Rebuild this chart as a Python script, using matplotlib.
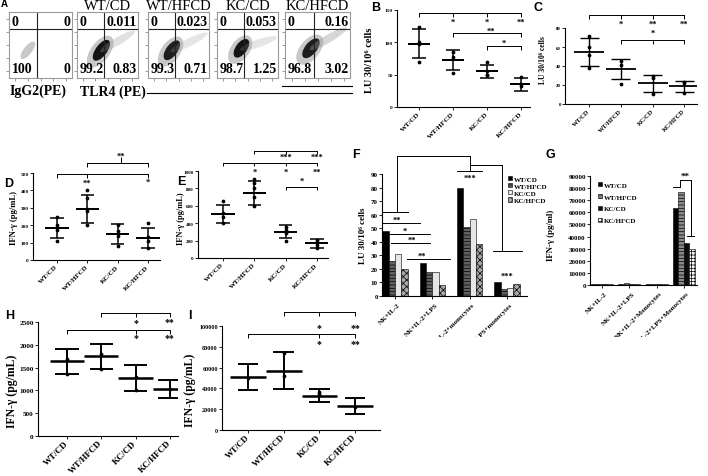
import matplotlib
matplotlib.use('Agg')
import matplotlib.pyplot as plt
import matplotlib.transforms as mtransforms
from matplotlib.patches import Ellipse, Patch
from matplotlib.lines import Line2D
import numpy as np

plt.rcParams['font.family'] = ['Liberation Serif', 'DejaVu Serif']
plt.rcParams['font.weight'] = 'bold'
plt.rcParams['hatch.linewidth'] = 0.5
plt.rcParams['axes.linewidth'] = 0.8

# ---- data ----
groups = ['WT/CD', 'WT/HFCD', 'KC/CD', 'KC/HFCD']

# A: flow cytometry quadrants
a_titles = ['', 'WT/CD', 'WT/HFCD', 'KC/CD', 'KC/HFCD']
a_ul = ['0', '0', '0', '0', '0']
a_ur = ['0', '0.011', '0.023', '0.053', '0.16']
a_ll = ['100', '99.2', '99.3', '98.7', '96.8']
a_lr = ['0', '0.83', '0.71', '1.25', '3.02']
a_cx = [0.30, 0.38, 0.37, 0.38, 0.38]
a_cy = [0.42, 0.40, 0.40, 0.43, 0.43]
a_len = [0.33, 0.48, 0.45, 0.42, 0.45]
a_core = [0.0, 0.9, 0.85, 0.9, 0.85]
a_tx = [0.30, 0.95, 0.98, 0.98, 0.95]
a_ty = [0.42, 0.71, 0.68, 0.62, 0.76]
a_tail = [0.0, 0.3, 0.25, 0.25, 0.4]

# B: LU 30/10^6 cells
b_mean = [98, 72, 55, 35]
b_sd = [22, 15.5, 9.5, 9.5]
b_pts = [[123, 101, 97, 70], [85, 77, 52], [69, 55, 50, 50], [47, 36, 33]]
b_brackets = [([0, 1, 2, 3], 145, 6), ([1, 3], 114, 6), ([2, 3], 94, 6)]
b_stars = [(1, 131, '*'), (2, 131, '*'), (3, 131, '**'), (2.1, 118, '**'), (2.5, 99, '*')]

# C
c_mean = [55, 36.5, 22, 18.5]
c_sd = [14.5, 10.5, 9, 5.5]
c_pts = [[72, 60, 52, 38], [45, 41, 21], [30, 27, 11], [23, 22, 12]]
c_brackets = [([0, 1, 2, 3], 94, 4), ([1, 2, 3], 67, 4)]
c_stars = [(1, 84, '*'), (2, 84, '**'), (3, 84, '**'), (2, 75, '*')]

# D: IFN-g
d_mean = [185, 293, 150, 127]
d_sd = [58, 82, 58, 58]
d_pts = [[250, 200, 175, 110], [400, 355, 295, 280, 200], [200, 165, 140, 80], [210, 130, 110, 70]]
d_brackets = [([0, 1, 3], 494, 20), ([1, 3], 557, 20)]
d_stars = [(1, 442, '**'), (3, 448, '*'), (2.1, 598, '**')]

# E: IFN-g
e_mean = [508, 745, 303, 168]
e_sd = [105, 138, 73, 52]
e_pts = [[650, 520, 470, 400], [910, 860, 800, 700, 600], [360, 320, 290, 200], [210, 180, 150, 120]]
e_brackets = [([1, 2, 3], 1230, 40), ([0, 1, 2, 3], 1092, 40), ([2, 3], 816, 40)]
e_stars = [(2, 1161, '***'), (3, 1161, '***'), (1, 989, '*'), (2, 989, '*'), (3, 989, '**'), (2.5, 885, '*')]

# F: bars LU
f_labels = ['NK+IL-2', 'NK+IL-2+LPS', 'NK+IL-2+monocytes', 'NK+IL-2+LPS+monocytes']
f_wtcd = [48, 24, 80, 10.5]
f_wthfcd = [26, 18, 51, 5]
f_kccd = [31, 18, 56.5, 6]
f_kchfcd = [20, 8, 38, 9]
f_lines = [([-0.32, 0.67], [53.8, 53.8]), ([-0.32, 0.94], [45.7, 45.7]),
           ([-0.11, 0.94], [39, 39]), ([0.32, 1.47], [27.3, 27.3]),
           ([-0.32, 0.35], [62, 62]), ([0.05, 0.05], [62, 103]),
           ([0.05, 2.01], [103, 103]), ([2.01, 2.01], [103, 92]),
           ([1.66, 2.33], [92, 92]), ([2.01, 2.87], [97, 97]),
           ([2.87, 2.87], [97, 33]), ([2.63, 3.40], [33, 33])]
f_stars = [(0.05, 56, '**'), (0.27, 48, '*'), (0.46, 41.5, '**'), (0.72, 30, '**'),
           (2.0, 87, '***'), (3.0, 15, '***')]

# G: bars IFN-g
g_labels = ['NK+IL-2', 'NK+IL-2+LPS', 'NK+IL-2+Monocytes', 'NK+IL-2+LPS+Monocytes']
g_wtcd = [800, 1200, 1000, 63500]
g_wthfcd = [600, 1500, 1200, 76500]
g_kccd = [700, 1000, 1100, 34500]
g_kchfcd = [500, 800, 900, 30000]
g_lines = [([2.6, 2.86], [80900, 80900]), ([2.86, 2.86], [80900, 86700]),
           ([2.86, 3.26], [86700, 86700]), ([3.26, 3.26], [86700, 40500]),
           ([3.11, 3.37], [40500, 40500])]
g_stars = [(3.05, 90000, '**')]

# H: IFN-g
h_mean = [1635, 1745, 1280, 1030]
h_sd = [280, 270, 285, 195]
h_pts = [[1680, 1350], [1800, 1480], [1300, 1000], [1020]]
h_brackets = [([1, 2, 3], 2697, 90), ([0, 2, 3], 2325, 90)]
h_stars = [(2, 2478, '*'), (3, 2500, '**'), (2, 2149, '*'), (3, 2149, '**')]

# I: IFN-g
i_mean = [50800, 57000, 33000, 23000]
i_sd = [12300, 18000, 6500, 8000]
i_pts = [[50000], [74000, 52000], [37000, 35000], [22000]]
i_brackets = [([1, 2, 3], 113500, 4000), ([0, 2, 3], 92300, 4000)]
i_stars = [(2, 99000, '*'), (3, 99000, '**'), (2, 83600, '*'), (3, 83600, '**')]

# ---- figure ----
W, H = 708, 477
fig = plt.figure(figsize=(W / 100, H / 100), dpi=100)


def px_axes(x0, x1, y0, y1):
    return fig.add_axes([x0 / W, 1 - y1 / H, (x1 - x0) / W, (y1 - y0) / H])


def fig_text(x, y, s, **kw):
    return fig.text(x / W, 1 - y / H, s, **kw)


def letter(x, y, s, size=9):
    fig_text(x, y, s, family='Liberation Sans', weight='bold', fontsize=size, va='center', ha='left')


def fig_line(xs, ys, lw=0.8):
    fig.add_artist(Line2D([v / W for v in xs], [1 - v / H for v in ys],
                          transform=fig.transFigure, color='k', lw=lw))


def clean(ax, ysize):
    for s in ['top', 'right']:
        ax.spines[s].set_visible(False)
    ax.tick_params(length=2, width=0.6, pad=1)
    ax.tick_params(axis='y', labelsize=ysize)


def sig(ax, brackets, stars, ssize, lw=0.7):
    for xs, y, drop in brackets:
        ax.plot([min(xs), max(xs)], [y, y], color='k', lw=lw, clip_on=False)
        ax.vlines(xs, y - drop, y, color='k', lw=lw, clip_on=False)
    for x, y, s in stars:
        ax.text(x, y, s, ha='center', va='center', fontsize=ssize, clip_on=False)


def dot_panel(rect, mean, sd, pts, ylim, yticks, xlim, mean_w, cap_w, lw, ysize, xsize):
    ax = px_axes(*rect)
    x = np.arange(len(groups))
    lo = np.array(mean) - np.array(sd)
    hi = np.array(mean) + np.array(sd)
    ax.vlines(x, lo, hi, color='k', lw=lw)
    ax.hlines(lo, x - cap_w / 2, x + cap_w / 2, color='k', lw=lw)
    ax.hlines(hi, x - cap_w / 2, x + cap_w / 2, color='k', lw=lw)
    ax.hlines(mean, x - mean_w / 2, x + mean_w / 2, color='k', lw=lw * 1.3)
    for i, p in enumerate(pts):
        ax.plot([i] * len(p), p, 'o', ms=1.7, color='k', lw=0)
    ax.set_ylim(*ylim)
    ax.set_xlim(*xlim)
    ax.set_yticks(yticks)
    ax.set_xticks(x)
    ax.set_xticklabels(groups, rotation=45, ha='right', va='center', rotation_mode='anchor', fontsize=xsize)
    clean(ax, ysize)
    ax.tick_params(axis='x', pad=2)
    return ax


# A
box_px = [(9, 72), (77, 138), (148, 209), (217, 278), (285, 350)]
for i, (x0, x1) in enumerate(box_px):
    ax = px_axes(x0, x1, 13, 79)
    ax.set_xlim(0, 1)
    ax.set_ylim(0, 1)
    for sp in ax.spines.values():
        sp.set_color('#9a9a9a')
    ax.set_xticks([0.1, 0.3, 0.5, 0.7, 0.9])
    ax.set_yticks([0.1, 0.3, 0.5, 0.7, 0.9])
    ax.set_xticklabels([])
    ax.set_yticklabels([])
    ax.tick_params(length=2.5, width=0.6, color='#888888')
    ax.axvline(0.45, color='#222222', lw=0.8)
    ax.axhline(0.74, color='#222222', lw=0.8)
    ang = 50
    if a_core[i] == 0:
        ax.add_patch(Ellipse((a_cx[i], a_cy[i]), a_len[i], 0.13, angle=ang, color='#888888', alpha=0.45, lw=0))
    else:
        ax.add_patch(Ellipse((a_cx[i], a_cy[i]), a_len[i] * 1.2, 0.3, angle=ang, color='#777777', alpha=0.4, lw=0))
        ax.add_patch(Ellipse((a_cx[i] + 0.02, a_cy[i] + 0.02), a_len[i] * 0.8, 0.18, angle=ang,
                             color='k', alpha=a_core[i], lw=0))
        dx = a_tx[i] - a_cx[i]
        dy = a_ty[i] - a_cy[i]
        ax.add_patch(Ellipse(((a_cx[i] + a_tx[i]) / 2, (a_cy[i] + a_ty[i]) / 2), np.hypot(dx, dy), 0.12,
                             angle=np.degrees(np.arctan2(dy, dx)), color='#999999', alpha=a_tail[i], lw=0))
    kw = dict(fontsize=10, va='center', transform=ax.transAxes)
    ax.text(0.04, 0.86, a_ul[i], ha='left', **kw)
    ax.text(0.98, 0.86, a_ur[i], ha='right', **kw)
    ax.text(0.04, 0.14, a_ll[i], ha='left', **kw)
    ax.text(0.98, 0.14, a_lr[i], ha='right', **kw)
    if a_titles[i]:
        ax.set_title(a_titles[i], fontsize=10.5, pad=1)
fig_text(10, 91, 'IgG2(PE)', fontsize=10, va='center')
fig_text(80, 92, 'TLR4 (PE)', fontsize=10, va='center')
fig_line([147, 352], [94, 94])
fig_line([282, 352], [87, 87])
letter(1, 4, 'A', 7)

# B
ax = dot_panel((397, 530, 11, 108), b_mean, b_sd, b_pts, (0, 150), [0, 50, 100, 150], (-0.65, 3.26),
               0.65, 0.42, 1.1, 3.8, 5.2)
sig(ax, b_brackets, b_stars, 6)
fig_text(370, 60, 'LU 30/10⁶ cells', rotation=90, fontsize=7.5, ha='center', va='center')
letter(371, 8, 'B')

# C
ax = dot_panel((565, 697, 29, 105), c_mean, c_sd, c_pts, (0, 80), [0, 20, 40, 60, 80], (-0.76, 3.4),
               0.95, 0.6, 1.0, 3.5, 4.6)
sig(ax, c_brackets, c_stars, 6)
fig_text(543, 60, 'LU 30/10⁶ cells', rotation=90, fontsize=5.5, ha='center', va='center')
letter(533, 8, 'C')

# D
ax = dot_panel((33, 160, 174, 261), d_mean, d_sd, d_pts, (0, 500), [0, 100, 200, 300, 400, 500], (-0.79, 3.4),
               0.77, 0.44, 1.1, 3.8, 5)
sig(ax, d_brackets, d_stars, 6)
ax.vlines([2.1], 557, 590, color='k', lw=0.7, clip_on=False)
fig_text(14, 218, 'IFN-γ (pg/mL)', rotation=90, fontsize=6.2, ha='center', va='center')
letter(4, 184, 'D')

# E
ax = dot_panel((198, 328, 172, 259), e_mean, e_sd, e_pts, (0, 1000), [0, 200, 400, 600, 800, 1000], (-0.8, 3.35),
               0.75, 0.43, 1.1, 3.6, 5)
sig(ax, e_brackets, e_stars, 6)
fig_text(181, 219, 'IFN-γ (pg/mL)', rotation=90, fontsize=6, ha='center', va='center')
letter(177, 182, 'E')

# label clip for F and G (labels are cut at the panel bottom in the original)
clip = mtransforms.TransformedBbox(mtransforms.Bbox.from_extents(0, 1 - 338 / H, 1, 1), fig.transFigure)


def bar_labels(ax, labels, size):
    off = mtransforms.ScaledTranslation(2 / 72, -4 / 72, fig.dpi_scale_trans)
    for i, lab in enumerate(labels):
        t = ax.text(i, 0, lab, transform=ax.get_xaxis_transform() + off, rotation=45, ha='right', va='top',
                    rotation_mode='anchor', fontsize=size)
        t.set_clip_path(None)
        t.set_clip_box(clip)
        t.set_clip_on(True)


# F
ax = px_axes(382, 527, 175, 297)
fx = np.arange(4)
f_series = [f_wtcd, f_wthfcd, f_kccd, f_kchfcd]
f_style = [('k', None), ('#606060', '-----'), ('#e6e6e6', None), ('#a8a8a8', 'xxxxx')]
bw = 0.17
handles = []
for k, vals in enumerate(f_series):
    fc, ht = f_style[k]
    ax.bar(fx + (k - 1.5) * bw, vals, bw, color=fc, hatch=ht, edgecolor='k', lw=0.4)
    handles.append(Patch(facecolor=fc, hatch=ht, edgecolor='k', lw=0.4, label=groups[k]))
ax.set_ylim(0, 90)
ax.set_xlim(-0.35, 3.54)
ax.set_yticks(range(0, 91, 10))
ax.set_xticks(fx)
ax.set_xticklabels([])
clean(ax, 5)
for xs, ys in f_lines:
    ax.plot(xs, ys, color='k', lw=0.7, clip_on=False)
for x, y, s in f_stars:
    ax.text(x, y, s, ha='center', va='center', fontsize=6, clip_on=False)
bar_labels(ax, f_labels, 5)
ax.legend(handles=handles, loc='upper left', bbox_to_anchor=(508 / W, 1 - 177 / H), bbox_transform=fig.transFigure,
          frameon=False, fontsize=5, handlelength=0.6, handleheight=0.6, handletextpad=0.2, labelspacing=0.2,
          borderpad=0, borderaxespad=0)
fig_text(363, 236, 'LU 30/10⁶ cells', rotation=90, fontsize=6.5, ha='center', va='center')
letter(352, 155, 'F')

# G
ax = px_axes(590, 697, 177, 286)
gx = np.arange(4)
g_series = [g_wtcd, g_wthfcd, g_kccd, g_kchfcd]
g_style = [('k', None), ('#8a8a8a', '-----'), ('#111111', '|||'), ('white', '+++++')]
bw = 0.2
handles = []
for k, vals in enumerate(g_series):
    fc, ht = g_style[k]
    ax.bar(gx + (k - 1.5) * bw, vals, bw, color=fc, hatch=ht, edgecolor='k', lw=0.4)
    handles.append(Patch(facecolor=fc, hatch=ht, edgecolor='k', lw=0.4, label=groups[k]))
ax.set_ylim(0, 90000)
ax.set_xlim(-0.44, 3.48)
ax.set_yticks(range(0, 90001, 10000))
ax.set_xticks(gx)
ax.set_xticklabels([])
clean(ax, 5)
for xs, ys in g_lines:
    ax.plot(xs, ys, color='k', lw=0.7, clip_on=False)
for x, y, s in g_stars:
    ax.text(x, y, s, ha='center', va='center', fontsize=6.5, clip_on=False)
bar_labels(ax, g_labels, 5)
ax.legend(handles=handles, loc='upper left', bbox_to_anchor=(598 / W, 1 - 183 / H), bbox_transform=fig.transFigure,
          frameon=False, fontsize=5, handlelength=0.6, handleheight=0.6, handletextpad=0.2, labelspacing=0.9,
          borderpad=0, borderaxespad=0)
fig_text(551, 235, 'IFN-γ (pg/ml)', rotation=90, fontsize=6.3, ha='center', va='center')
letter(546, 155, 'G')

# H
ax = dot_panel((38, 178, 323, 437), h_mean, h_sd, h_pts, (0, 2500), [0, 500, 1000, 1500, 2000, 2500],
               (-0.85, 3.24), 1.0, 0.68, 1.4, 5.2, 6.5)
sig(ax, h_brackets, h_stars, 7)
fig_text(12, 391, 'IFN-γ (pg/mL)', rotation=90, fontsize=8.5, ha='center', va='center')
letter(5, 316, 'H')

# I
ax = dot_panel((222, 380, 327, 431), i_mean, i_sd, i_pts, (0, 100000), [0, 20000, 40000, 60000, 80000, 100000],
               (-0.73, 3.7), 1.0, 0.58, 1.4, 4.4, 6.3)
sig(ax, i_brackets, i_stars, 7)
fig_text(190, 390, 'IFN-γ (pg/mL)', rotation=90, fontsize=8.5, ha='center', va='center')
letter(188, 316, 'I')

fig.savefig('out.png', dpi=100, facecolor='white')
